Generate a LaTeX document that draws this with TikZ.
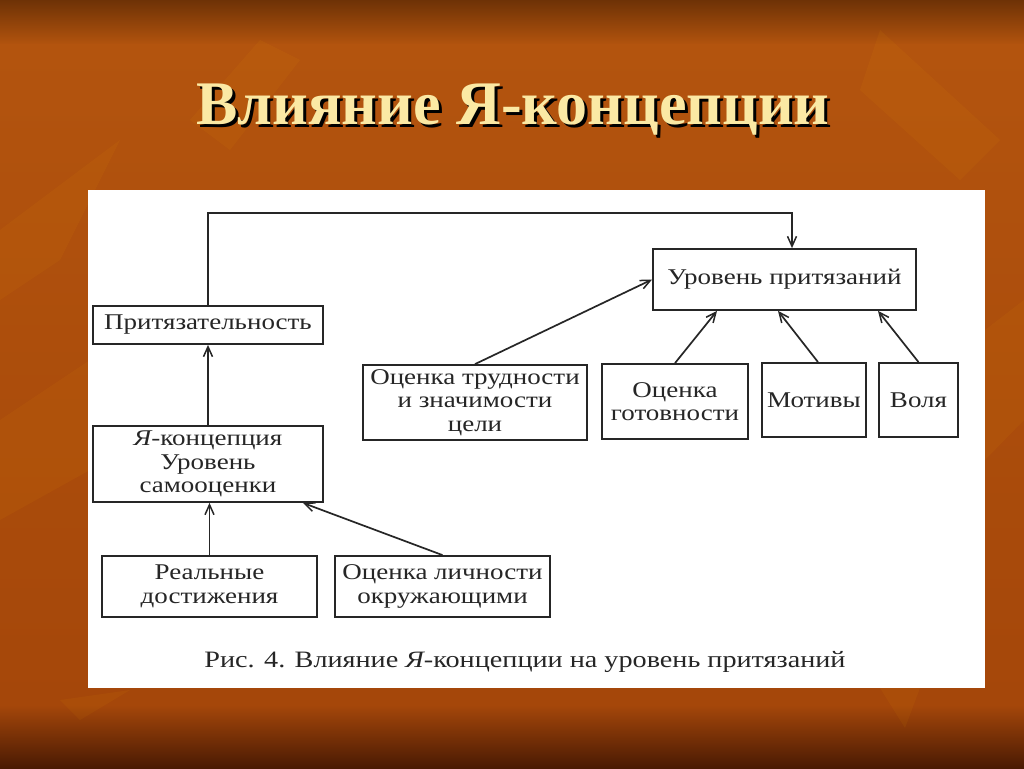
\documentclass[tikz,border=0pt]{standalone}
\usepackage{fontspec}
\setmainfont{Liberation Serif}
\newfontfamily\diagfont[FakeStretch=1.2]{Liberation Serif}
\usetikzlibrary{arrows.meta}
\definecolor{bgmid}{HTML}{B3540E}
\definecolor{bgtop}{HTML}{6E3206}
\definecolor{bgbot}{HTML}{4A1A03}
\definecolor{bglow}{HTML}{A5470A}
\definecolor{titlecol}{HTML}{FBE9A4}
\definecolor{ink}{HTML}{262626}
\begin{document}
\begin{tikzpicture}[x=1pt,y=-1pt,
  box/.style={draw=ink, line width=1.8pt, fill=white, inner sep=0pt, align=center,
    font=\diagfont\fontsize{22.5}{23.5}\selectfont, text=ink},
  arr/.style={draw=ink, line width=1.7pt, -{Straight Barb[length=10pt,width=9pt,line width=1.5pt]}},
  leaf/.style={fill=orange!60!yellow, opacity=0.06},
]
\useasboundingbox (0,0) rectangle (1024,768);
% background
\fill[bgmid] (0,0) rectangle (1024,768);
\shade[top color=bgtop, bottom color=bgmid] (0,0) rectangle (1024,45);
\shade[top color=bgmid, bottom color=bglow] (0,45) rectangle (1024,705);
\shade[top color=bglow, bottom color=bgbot] (0,705) rectangle (1024,768);
% decorative shapes
\fill[leaf] (0,230) -- (120,140) -- (60,260) -- (0,300) -- cycle;
\fill[leaf] (0,420) -- (90,360) -- (90,470) -- (0,520) -- cycle;
\fill[leaf] (60,700) -- (130,690) -- (80,720) -- cycle;
\fill[leaf] (880,30) -- (1000,140) -- (960,180) -- (860,90) -- cycle;
\fill[leaf] (985,330) -- (1024,300) -- (1024,420) -- (985,460) -- cycle;
\fill[leaf] (880,688) -- (920,688) -- (905,728) -- cycle;
\fill[leaf] (190,120) -- (260,40) -- (300,60) -- (230,150) -- cycle;
% white panel
\fill[white] (88,190) rectangle (985,688);
% title
\node[font=\bfseries\fontsize{62}{72}\selectfont, text=black, anchor=base] (titleshadow) at (516,127) {Влияние Я-концепции};
\node[font=\bfseries\fontsize{62}{72}\selectfont, text=titlecol, anchor=base] (title) at (513,124) {Влияние Я-концепции};
% nodes
\node[box, minimum width=230pt, minimum height=38pt] (prit) at (208,325) {Притязательность};
\node[box, minimum width=263pt, minimum height=61pt] (ur) at (784.5,279.5) {Уровень притязаний};
\node[box, minimum width=230pt, minimum height=76pt] (yak) at (208,464) {{\itshape Я}-концепция\\Уровень\\самооценки};
\node[box, minimum width=215pt, minimum height=61pt] (real) at (209.5,586.5) {Реальные\\достижения};
\node[box, minimum width=215pt, minimum height=61pt] (lich) at (442.5,586.5) {Оценка личности\\окружающими};
\node[box, minimum width=224pt, minimum height=75pt] (trud) at (475,402.5) {Оценка трудности\\и значимости\\цели};
\node[box, minimum width=146pt, minimum height=75pt] (got) at (675,401.5) {Оценка\\готовности};
\node[box, minimum width=104pt, minimum height=74pt] (mot) at (814,400) {Мотивы};
\node[box, minimum width=79pt, minimum height=74pt] (vol) at (918.5,400) {Воля};
% caption
\node[font=\diagfont\fontsize{23.5}{26}\selectfont, text=ink, anchor=base] (cap) at (525,667) {Рис. 4. Влияние {\itshape Я}-концепции на уровень притязаний};
% connectors
\coordinate (turn) at (792,213);
\draw[arr] (prit.north) |- (turn) -- (turn |- ur.north);
\draw[arr] (yak.north) -- (prit.south);
\draw[arr] (real.north) -- (real.north |- yak.south);
\draw[arr] (lich.north) -- ([xshift=-21pt]yak.south east);
\draw[arr] (trud.north) -- (ur.west);
\draw[arr] (got.north) -- ([xshift=-67.5pt]ur.south);
\draw[arr] ([xshift=4pt]mot.north) -- ([xshift=-6.5pt]ur.south);
\draw[arr] (vol.north) -- ([xshift=93.5pt]ur.south);
\end{tikzpicture}
\end{document}
